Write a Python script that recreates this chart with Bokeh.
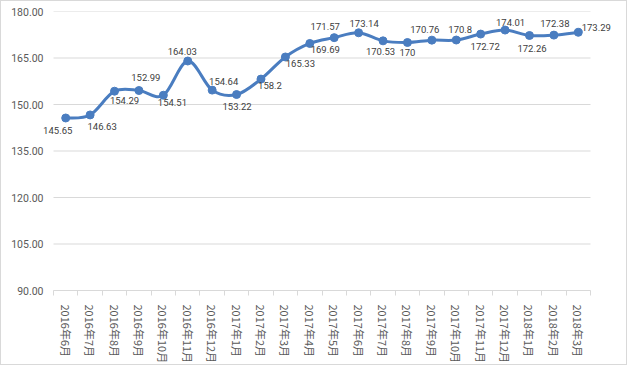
import math
from bokeh.plotting import figure
from bokeh.models import (ColumnDataSource, LabelSet, FixedTicker, Range1d,
                          NumeralTickFormatter)
from bokeh.core.properties import value
from bokeh.embed import file_html
from bokeh.resources import INLINE

# ---- data ----
months = ["2016年6月", "2016年7月", "2016年8月", "2016年9月", "2016年10月",
          "2016年11月", "2016年12月", "2017年1月", "2017年2月", "2017年3月",
          "2017年4月", "2017年5月", "2017年6月", "2017年7月", "2017年8月",
          "2017年9月", "2017年10月", "2017年11月", "2017年12月", "2018年1月",
          "2018年2月", "2018年3月"]
values = [145.65, 146.63, 154.29, 154.51, 152.99, 164.03, 154.64, 153.22,
          158.2, 165.33, 169.69, 171.57, 173.14, 170.53, 170, 170.76, 170.8,
          172.72, 174.01, 172.26, 172.38, 173.29]
y_ticks = [90, 105, 120, 135, 150, 165, 180]

# ---- label placement (pixels, down positive) ----
label_dx = [-8, 12, 10, 33.5, -17.5, -5.5, 11.5, 0.5, 9, 15, 15.5, -9, 5.5,
            -2.5, 0, -7, 4, 4.5, 5.5, 2.5, 1, 18]
label_dy = [12.5, 12, 9, 12, -17.5, -10, -8.5, 12, 6.5, 7, 6.5, -11, -9,
            10.5, 10, -10.5, -10.5, 12, -8, 13, -12, -5]

LINE = "#4A7DC0"
GRID = "#D9D9D9"

n = len(months)
xs = list(range(n))
lo, hi = -0.5, n - 0.5

p = figure(width=627, height=365, output_backend="svg", toolbar_location=None,
           x_range=Range1d(-0.91, n - 0.5 + 0.983),
           y_range=Range1d(y_ticks[0], y_ticks[-1]))
p.min_border_left = 42
p.min_border_right = 14
p.min_border_top = 10
p.min_border_bottom = 71
p.outline_line_color = None
p.background_fill_color = "white"
p.border_fill_color = "white"
p.xgrid.visible = False
p.ygrid.visible = False

# horizontal gridlines limited to the category span
p.segment(x0=[lo] * len(y_ticks), x1=[hi] * len(y_ticks), y0=y_ticks, y1=y_ticks,
          line_color=GRID, line_width=1)

# y axis
p.yaxis.ticker = FixedTicker(ticks=y_ticks)
p.yaxis.formatter = NumeralTickFormatter(format="0.00")
p.yaxis.axis_line_color = None
p.yaxis.major_tick_line_color = None
p.yaxis.minor_tick_line_color = None
p.yaxis.major_tick_out = 0
p.yaxis.major_tick_in = 0
p.yaxis.major_label_text_font = "Roboto"
p.yaxis.major_label_text_font_size = "10.5px"
p.yaxis.major_label_text_color = "#595959"
p.yaxis.major_label_standoff = 0

# x axis: labels at category centres, tick marks at category boundaries
p.xaxis.bounds = (lo, hi)
p.xaxis.ticker = FixedTicker(ticks=xs, minor_ticks=[i - 0.5 for i in range(n + 1)])
p.xaxis.major_label_overrides = {i: m for i, m in enumerate(months)}
p.xaxis.major_label_orientation = -math.pi / 2
p.xaxis.major_label_text_font = "Noto Sans CJK SC"
p.xaxis.major_label_text_font_size = "11px"
p.xaxis.major_label_text_color = "#595959"
p.xaxis.major_label_standoff = 9
p.xaxis.axis_line_color = GRID
p.xaxis.major_tick_line_color = None
p.xaxis.major_tick_out = 0
p.xaxis.major_tick_in = 0
p.xaxis.minor_tick_line_color = GRID
p.xaxis.minor_tick_out = 5
p.xaxis.minor_tick_in = 0

# smoothed line (Catmull-Rom -> cubic Bezier), computed from the data
x0, y0, x1, y1, cx0, cy0, cx1, cy1 = [], [], [], [], [], [], [], []
for i in range(n - 1):
    pa = (xs[i - 1], values[i - 1]) if i > 0 else (xs[i], values[i])
    pb = (xs[i], values[i])
    pc = (xs[i + 1], values[i + 1])
    pd = (xs[i + 2], values[i + 2]) if i + 2 < n else pc
    x0.append(pb[0]); y0.append(pb[1])
    x1.append(pc[0]); y1.append(pc[1])
    cx0.append(pb[0] + (pc[0] - pa[0]) / 6.0)
    cy0.append(pb[1] + (pc[1] - pa[1]) / 6.0)
    cx1.append(pc[0] - (pd[0] - pb[0]) / 6.0)
    cy1.append(pc[1] - (pd[1] - pb[1]) / 6.0)
p.bezier(x0=x0, y0=y0, x1=x1, y1=y1, cx0=cx0, cy0=cy0, cx1=cx1, cy1=cy1,
         line_color=LINE, line_width=3, line_cap="round")

p.scatter(xs, values, size=8, marker="circle", fill_color=LINE, line_color=LINE)

src = ColumnDataSource(dict(x=xs, y=values,
                            text=[f"{v:g}" for v in values],
                            dx=label_dx, dy=[-d for d in label_dy]))
labels = LabelSet(x="x", y="y", text="text", source=src,
                  x_offset="dx", y_offset="dy",
                  text_align="center", text_baseline="middle",
                  text_font=value("Roboto"), text_font_size=value("9.5px"),
                  text_color="#404040")
p.add_layout(labels)

p.styles = {"border": "1px solid #D9D9D9"}

open("out.html", "w").write(file_html(p, INLINE))
